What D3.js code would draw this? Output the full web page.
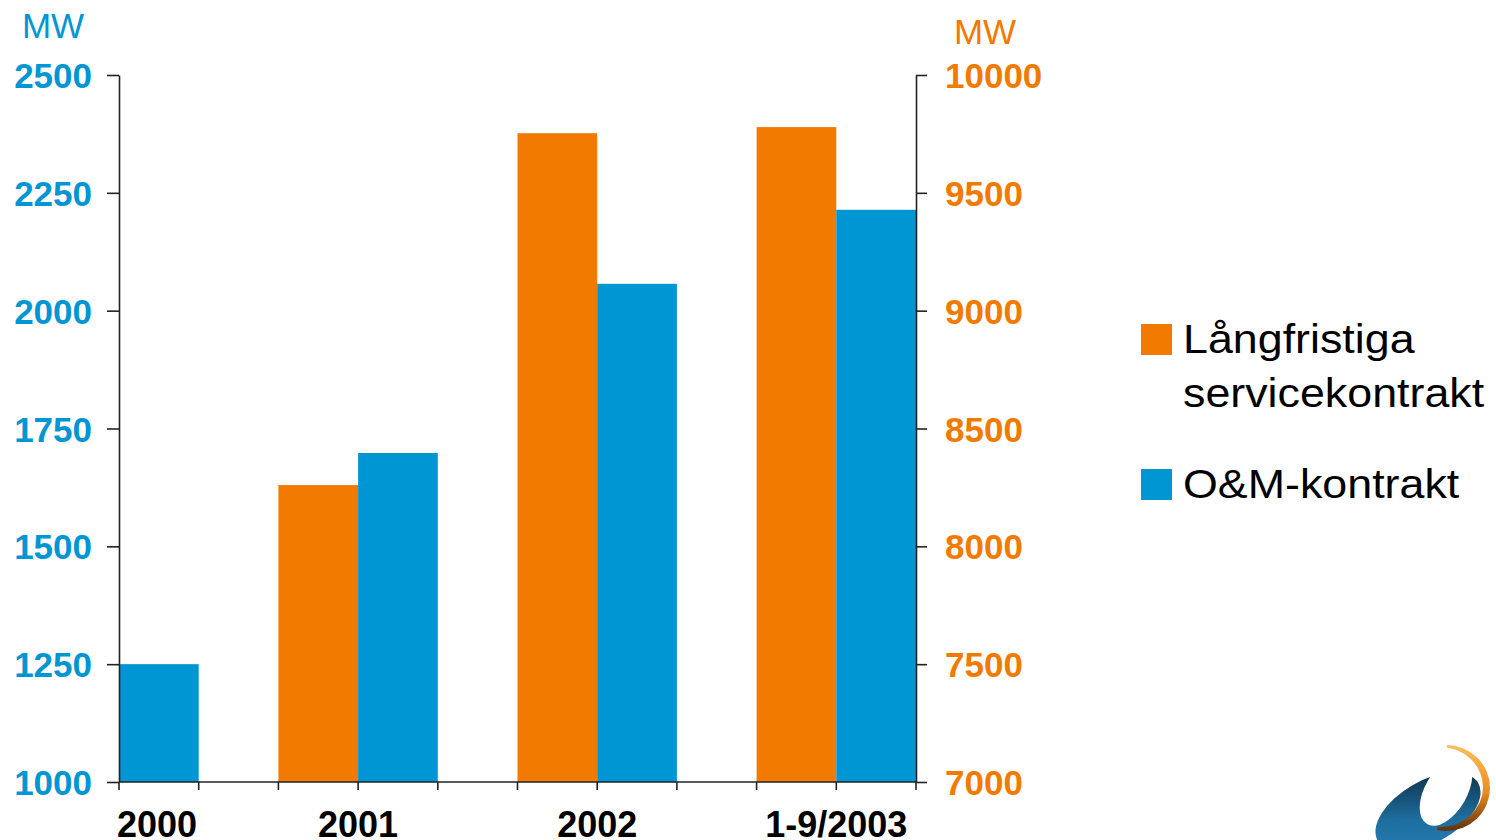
<!DOCTYPE html>
<html><head><meta charset="utf-8">
<script src="https://cdn.jsdelivr.net/npm/d3@7"></script>
<style>
html,body{margin:0;padding:0;background:#fff;}
svg{display:block;font-family:Arial,"Liberation Sans",Helvetica,sans-serif;}
</style></head>
<body>
<svg id="chart" width="1496" height="840"></svg>
<script>
const categories = ["2000", "2001", "2002", "1-9/2003"];
const omValues = [1250, 1698, 2057, 2214];          // O&M-kontrakt, left axis (MW)
const langValues = [null, 8260, 9753, 9779];       // Långfristiga servicekontrakt, right axis (MW)
const leftTicks = [1000, 1250, 1500, 1750, 2000, 2250, 2500];
const rightTicks = [7000, 7500, 8000, 8500, 9000, 9500, 10000];
const seriesNames = ["Långfristiga servicekontrakt", "O&M-kontrakt"];
const legendLines = [["Långfristiga", "servicekontrakt"], ["O&M-kontrakt"]];

const BLUE = "#0096D3", ORANGE = "#F27A00", AXIS = "#222";
const svg = d3.select("#chart");
const L = 119, R = 916, T = 75, B = 782;

const yL = d3.scaleLinear().domain([1000, 2500]).range([B, T]);
const yR = d3.scaleLinear().domain([7000, 10000]).range([B, T]);
const s = (R - L) / (10 / 3);
const x0 = d3.scaleBand().domain(categories).range([L - s / 2, L + 3.5 * s]).padding(0);
const x1 = d3.scaleBand().domain(["lang", "om"]).range([s / 6, 5 * s / 6]).padding(0);
const center = c => x0(c) + x0.bandwidth() / 2;

const defs = svg.append("defs");
defs.append("clipPath").attr("id", "plot").append("rect")
  .attr("x", L).attr("y", T - 5).attr("width", R - L).attr("height", B - T + 5);

const rows = categories.map((c, i) => ({ c, om: omValues[i], lang: langValues[i] }));
const bars = svg.append("g").attr("clip-path", "url(#plot)");
bars.selectAll("rect.lang").data(rows.filter(d => d.lang != null)).join("rect")
  .attr("class", "lang")
  .attr("x", d => x0(d.c) + x1("lang")).attr("width", x1.bandwidth())
  .attr("y", d => yR(d.lang)).attr("height", d => B - yR(d.lang))
  .attr("fill", ORANGE);
bars.selectAll("rect.om").data(rows.filter(d => d.om != null)).join("rect")
  .attr("class", "om")
  .attr("x", d => x0(d.c) + x1("om")).attr("width", x1.bandwidth())
  .attr("y", d => yL(d.om)).attr("height", d => B - yL(d.om))
  .attr("fill", BLUE);

// left axis
const gl = svg.append("g").attr("transform", `translate(${L},0)`)
  .call(d3.axisLeft(yL).tickValues(leftTicks).tickSize(12).tickSizeOuter(0).tickPadding(15).tickFormat(d3.format("d")));
gl.select(".domain").attr("stroke", AXIS).attr("stroke-width", 1.6);
gl.selectAll(".tick line").attr("stroke", AXIS).attr("stroke-width", 1.6);
gl.selectAll(".tick text").attr("fill", BLUE).attr("font-size", 35).attr("font-weight", "bold")
  .attr("font-family", "Arial, 'Liberation Sans', sans-serif").attr("dy", "0.36em");

// right axis
const gr = svg.append("g").attr("transform", `translate(${R},0)`)
  .call(d3.axisRight(yR).tickValues(rightTicks).tickSize(11).tickSizeOuter(0).tickPadding(18).tickFormat(d3.format("d")));
gr.select(".domain").attr("stroke", AXIS).attr("stroke-width", 1.6);
gr.selectAll(".tick line").attr("stroke", AXIS).attr("stroke-width", 1.6);
gr.selectAll(".tick text").attr("fill", ORANGE).attr("font-size", 35).attr("font-weight", "bold")
  .attr("font-family", "Arial, 'Liberation Sans', sans-serif").attr("dy", "0.36em");

// bottom axis
const gb = svg.append("g");
gb.append("line").attr("x1", L).attr("x2", R).attr("y1", B).attr("y2", B)
  .attr("stroke", AXIS).attr("stroke-width", 1.6);
const bticks = [];
categories.forEach(c => [-s / 3, 0, s / 3].forEach(o => {
  const v = center(c) + o; if (v >= L - 1 && v <= R + 1) bticks.push(v);
}));
gb.selectAll("line.bt").data(bticks).join("line").attr("class", "bt")
  .attr("x1", d => d).attr("x2", d => d).attr("y1", B).attr("y2", B + 8)
  .attr("stroke", AXIS).attr("stroke-width", 1.6);
gb.selectAll("text").data(categories).join("text")
  .attr("y", 837).attr("text-anchor", "middle")
  .attr("font-size", 36).attr("font-weight", "bold").attr("fill", "#000")
  .text(d => d)
  .attr("x", function (d) {
    const w = this.getComputedTextLength();
    return Math.min(Math.max(center(d), L + w / 2 - 2), R - w / 2 + 2);
  });

// units
svg.append("text").attr("x", 53).attr("y", 38).attr("text-anchor", "middle")
  .attr("font-size", 35).attr("fill", BLUE).text("MW");
svg.append("text").attr("x", 985).attr("y", 44).attr("text-anchor", "middle")
  .attr("font-size", 35).attr("fill", ORANGE).text("MW");

// legend
const lg = svg.append("g");
const legendY = [324, 469];
[ORANGE, BLUE].forEach((col, i) => {
  lg.append("rect").attr("x", 1141).attr("y", legendY[i]).attr("width", 31).attr("height", 31).attr("fill", col);
  const t = lg.append("text").attr("transform", `translate(1183,${legendY[i] + 29}) scale(1.12,1)`)
    .attr("font-size", 40).attr("fill", "#000").attr("aria-label", seriesNames[i]);
  legendLines[i].forEach((ln, j) => t.append("tspan").attr("x", 0).attr("y", j * 54).text(ln));
});

// logo
const gBlue = defs.append("linearGradient").attr("id", "lb").attr("x1", "0").attr("y1", "1").attr("x2", "1").attr("y2", "0");
gBlue.append("stop").attr("offset", "0").attr("stop-color", "#2a86bd");
gBlue.append("stop").attr("offset", "0.45").attr("stop-color", "#1d6c9d");
gBlue.append("stop").attr("offset", "0.8").attr("stop-color", "#123a55");
gBlue.append("stop").attr("offset", "1").attr("stop-color", "#050a10");
const gOr = defs.append("linearGradient").attr("id", "lo").attr("x1", "0").attr("y1", "0").attr("x2", "0").attr("y2", "1");
gOr.append("stop").attr("offset", "0").attr("stop-color", "#f8c060");
gOr.append("stop").attr("offset", "0.55").attr("stop-color", "#ec8c1c");
gOr.append("stop").attr("offset", "1").attr("stop-color", "#5a3210");
const m = defs.append("mask").attr("id", "hole");
m.append("rect").attr("x", 1340).attr("y", 720).attr("width", 160).attr("height", 130).attr("fill", "#fff");
m.append("ellipse").attr("cx", 1454).attr("cy", 803).attr("rx", 38).attr("ry", 21)
  .attr("transform", "rotate(-30 1454 803)").attr("fill", "#000");
const logo = svg.append("g");
logo.append("ellipse").attr("cx", 1428).attr("cy", 812).attr("rx", 58).attr("ry", 31)
  .attr("transform", "rotate(-30 1428 812)").attr("fill", "url(#lb)").attr("mask", "url(#hole)");
const m2 = defs.append("mask").attr("id", "ohole");
m2.append("rect").attr("x", 1340).attr("y", 720).attr("width", 160).attr("height", 130).attr("fill", "#fff");
m2.append("ellipse").attr("cx", 1440).attr("cy", 787).attr("rx", 43).attr("ry", 40).attr("fill", "#000");
m2.append("polygon").attr("points", "1340,720 1447,720 1447,744 1436,840 1340,840").attr("fill", "#000");
logo.append("ellipse").attr("cx", 1446).attr("cy", 788).attr("rx", 44).attr("ry", 43)
  .attr("fill", "url(#lo)").attr("mask", "url(#ohole)");
</script>
</body></html>
